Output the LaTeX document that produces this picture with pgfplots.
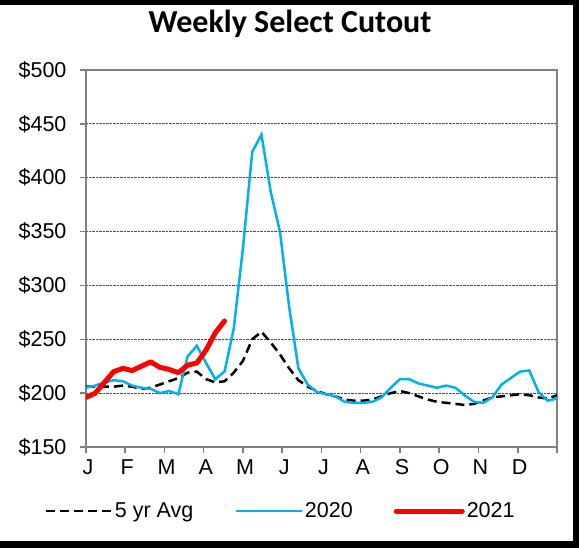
\documentclass[border=0pt]{standalone}
\usepackage{pgfplots}
\pgfplotsset{compat=1.18}
\usepackage{fontspec}
\setmainfont{Liberation Sans}
\newfontfamily\titlefont{Carlito}
\definecolor{lblue}{HTML}{00B0F0}
\definecolor{axgray}{HTML}{808080}
\begin{document}
\begin{tikzpicture}[x=1pt,y=1pt]
\useasboundingbox (0,0) rectangle (579,548);
\fill[white] (0,0) rectangle (579,548);
\begin{axis}[at={(86pt,101pt)}, anchor=south west, scale only axis,
  width=471pt, height=377pt,
  xmin=1, xmax=52, ymin=150, ymax=500,
  xtick={1,5.25,9.5,13.75,18,22.25,26.5,30.75,35,39.25,43.5,47.75,52},
  xticklabels={J,F,M,A,M,J,J,A,S,O,N,D,},
  ytick={150,200,...,500},
  yticklabels={\$150,\$200,\$250,\$300,\$350,\$400,\$450,\$500},
  tick align=outside, major tick length=6pt,
  xtick pos=bottom, ytick pos=left,
  tick style={draw=axgray, line width=1.5pt},
  axis line style={draw=axgray, line width=2pt},
  ymajorgrids, grid style={densely dotted, black!70, line width=0.8pt},
  ticklabel style={font=\fontsize{21.5}{24}\selectfont},
  xticklabel style={xshift=2pt, yshift=-3pt},
  yticklabel style={xshift=-10pt},
  legend style={at={(0.413,-0.17)}, anchor=center, draw=none, fill=none,
    legend columns=3, font=\fontsize{21.5}{24}\selectfont,
    /tikz/every even column/.append style={column sep=39pt}},
  legend image code/.code={\draw[#1] (0pt,0pt) -- (66pt,0pt);},
]
\addplot[black, line width=2.5pt, dash pattern=on 9pt off 5pt] coordinates {
(1,206)(2,206)(3,206)(4,206)(5,207)(6,206)(7,204)(8,205)(9,208)(10,211)
(11,214)(12,219)(13,220)(14,213)(15,210)(16,211)(17,219)(18,230)(19,250)(20,257)
(21,247)(22,236)(23,223)(24,212)(25,206)(26,202)(27,199)(28,197)(29,194)(30,193)
(31,193)(32,194)(33,197)(34,200)(35,202)(36,200)(37,197)(38,194)(39,192)(40,191)
(41,190)(42,189)(43,190)(44,193)(45,196)(46,197)(47,198)(48,199)(49,198)(50,196)
(51,195)(52,198)};
\addlegendentry{5 yr Avg}
\addplot[lblue, line width=2.5pt] coordinates {
(1,205)(2,207)(3,210)(4,212)(5,211)(6,207)(7,205)(8,204)(9,200)(10,202)
(11,199)(12,234)(13,244)(14,228)(15,213)(16,220)(17,260)(18,335)(19,424)(20,440)
(21,387)(22,350)(23,280)(24,223)(25,208)(26,201)(27,199)(28,197)(29,192)(30,191)
(31,191)(32,192)(33,196)(34,205)(35,213)(36,213)(37,209)(38,207)(39,205)(40,207)
(41,205)(42,198)(43,192)(44,191)(45,196)(46,208)(47,214)(48,220)(49,221)(50,201)
(51,193)(52,195)};
\addlegendentry{2020}
\addplot[red, line width=5pt, line cap=round, line join=round] coordinates {
(1,196)(2,200)(3,210)(4,220)(5,223)(6,221)(7,225)(8,229)(9,224)(10,222)
(11,219)(12,226)(13,228)(14,240)(15,256)(16,267)};
\addlegendentry{2021}
\end{axis}
\node[font=\titlefont\bfseries\fontsize{32}{36}\selectfont, anchor=base] at (290,515) {Weekly Select Cutout};
\fill[black] (0,543) rectangle (579,548);
\fill[black] (573,0) rectangle (579,548);
\fill[black] (0,0) rectangle (579,7);
\end{tikzpicture}
\end{document}
